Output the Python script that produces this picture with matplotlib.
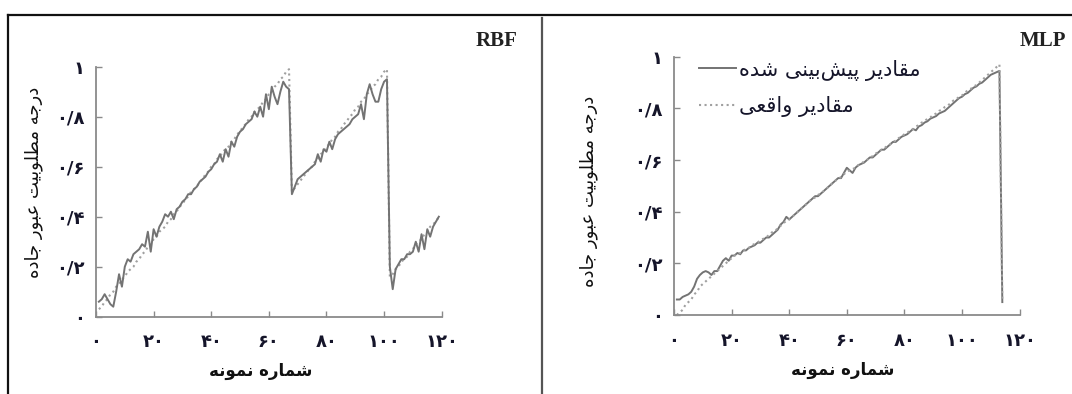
import matplotlib
matplotlib.use("Agg")
import matplotlib.pyplot as plt
from matplotlib.lines import Line2D

# ---------------- data ----------------
rbf_x = list(range(1, 120))
rbf_actual = [
    0.03, 0.04, 0.06, 0.07, 0.09, 0.10, 0.12, 0.13, 0.15, 0.16,
    0.18, 0.19, 0.20, 0.22, 0.23, 0.25, 0.26, 0.28, 0.29, 0.31,
    0.32, 0.34, 0.35, 0.36, 0.38, 0.39, 0.41, 0.42, 0.44, 0.45,
    0.47, 0.48, 0.50, 0.51, 0.52, 0.54, 0.55, 0.57, 0.58, 0.60,
    0.61, 0.63, 0.64, 0.66, 0.67, 0.68, 0.70, 0.71, 0.73, 0.74,
    0.76, 0.77, 0.79, 0.80, 0.82, 0.83, 0.84, 0.86, 0.87, 0.89,
    0.90, 0.92, 0.93, 0.95, 0.96, 0.98, 0.99,
    0.50, 0.515, 0.53, 0.545, 0.56, 0.575, 0.59, 0.60, 0.62, 0.63,
    0.65, 0.66, 0.68, 0.69, 0.71, 0.72, 0.74, 0.75, 0.77, 0.78,
    0.80, 0.81, 0.83, 0.84, 0.86, 0.87, 0.89, 0.90, 0.92, 0.93,
    0.95, 0.96, 0.98, 0.99,
    0.16, 0.17, 0.19, 0.20, 0.22, 0.23, 0.24, 0.26, 0.27, 0.29,
    0.30, 0.31, 0.33, 0.34, 0.36, 0.37, 0.38, 0.40,
]
rbf_pred = [
    0.06, 0.07, 0.09, 0.07, 0.05, 0.04, 0.10, 0.17, 0.12, 0.20,
    0.23, 0.22, 0.25, 0.26, 0.27, 0.29, 0.28, 0.34, 0.26, 0.35,
    0.32, 0.36, 0.38, 0.41, 0.40, 0.42, 0.39, 0.43, 0.44, 0.46,
    0.47, 0.49, 0.49, 0.51, 0.52, 0.54, 0.55, 0.56, 0.58, 0.59,
    0.61, 0.62, 0.65, 0.62, 0.67, 0.64, 0.70, 0.68, 0.72, 0.74,
    0.75, 0.77, 0.78, 0.79, 0.82, 0.80, 0.84, 0.80, 0.89, 0.83,
    0.92, 0.88, 0.85, 0.90, 0.94, 0.92, 0.91,
    0.49, 0.52, 0.55, 0.56, 0.57, 0.58, 0.59, 0.60, 0.61, 0.65,
    0.62, 0.67, 0.66, 0.70, 0.67, 0.71, 0.73, 0.74, 0.75, 0.76,
    0.77, 0.79, 0.80, 0.81, 0.85, 0.79, 0.89, 0.93, 0.89, 0.86,
    0.86, 0.91, 0.94, 0.95,
    0.20, 0.11, 0.19, 0.21, 0.23, 0.23, 0.25, 0.25, 0.26, 0.30,
    0.26, 0.33, 0.27, 0.35, 0.32, 0.36, 0.38, 0.40,
]

mlp_x = list(range(1, 115))
mlp_actual = [
    0.00, 0.01, 0.02, 0.04, 0.05, 0.06, 0.08, 0.09, 0.11, 0.12,
    0.13, 0.14, 0.15, 0.16, 0.17, 0.18, 0.19, 0.20, 0.21, 0.22,
    0.23, 0.235, 0.24, 0.25, 0.255, 0.26, 0.27, 0.275, 0.28, 0.29,
    0.295, 0.30, 0.31, 0.32, 0.325, 0.335, 0.345, 0.355, 0.365, 0.37,
    0.38, 0.39, 0.40, 0.41, 0.42, 0.43, 0.44, 0.45, 0.455, 0.465,
    0.47, 0.48, 0.49, 0.50, 0.51, 0.52, 0.525, 0.535, 0.545, 0.555,
    0.56, 0.565, 0.57, 0.58, 0.585, 0.595, 0.60, 0.61, 0.615, 0.625,
    0.63, 0.64, 0.645, 0.655, 0.66, 0.67, 0.675, 0.685, 0.69, 0.70,
    0.705, 0.715, 0.72, 0.73, 0.735, 0.745, 0.75, 0.76, 0.765, 0.775,
    0.78, 0.79, 0.795, 0.805, 0.81, 0.82, 0.83, 0.835, 0.845, 0.85,
    0.86, 0.87, 0.875, 0.885, 0.89, 0.90, 0.91, 0.92, 0.93, 0.94,
    0.95, 0.96, 0.97, 0.05,
]
mlp_pred = [
    0.06, 0.06, 0.07, 0.075, 0.08, 0.09, 0.11, 0.14, 0.155, 0.165,
    0.17, 0.165, 0.155, 0.17, 0.17, 0.19, 0.21, 0.22, 0.21, 0.23,
    0.23, 0.24, 0.235, 0.25, 0.25, 0.26, 0.265, 0.27, 0.28, 0.28,
    0.29, 0.30, 0.30, 0.31, 0.32, 0.33, 0.35, 0.36, 0.38, 0.37,
    0.38, 0.39, 0.40, 0.41, 0.42, 0.43, 0.44, 0.45, 0.46, 0.46,
    0.47, 0.48, 0.49, 0.50, 0.51, 0.52, 0.53, 0.53, 0.55, 0.57,
    0.56, 0.55, 0.57, 0.58, 0.585, 0.59, 0.60, 0.61, 0.61, 0.62,
    0.63, 0.64, 0.64, 0.65, 0.66, 0.67, 0.67, 0.68, 0.69, 0.695,
    0.70, 0.71, 0.72, 0.715, 0.73, 0.735, 0.745, 0.75, 0.76, 0.765,
    0.77, 0.78, 0.785, 0.79, 0.80, 0.81, 0.82, 0.83, 0.84, 0.845,
    0.855, 0.86, 0.87, 0.88, 0.885, 0.895, 0.90, 0.91, 0.92, 0.93,
    0.935, 0.94, 0.945, 0.05,
]

y_ticks = [0, 0.2, 0.4, 0.6, 0.8, 1.0]
y_tick_labels = ["۰", "۰/۲", "۰/۴", "۰/۶", "۰/۸", "۱"]
x_ticks = [0, 20, 40, 60, 80, 100, 120]
x_tick_labels = ["۰", "۲۰", "۴۰", "۶۰", "۸۰", "۱۰۰", "۱۲۰"]
x_label = "شماره نمونه"
y_label = "درجه مطلوبیت عبور جاده"
legend_labels = ["مقادیر پیش‌بینی شده", "مقادیر واقعی"]
titles = ["RBF", "MLP"]

# ------------- simple Persian shaping (matplotlib has no bidi/shaping) -------------
FORMS = {  # isolated, final, initial, medial
    'ا': (0xFE8D, 0xFE8E, None, None),
    'ب': (0xFE8F, 0xFE90, 0xFE91, 0xFE92),
    'پ': (0xFB56, 0xFB57, 0xFB58, 0xFB59),
    'ت': (0xFE95, 0xFE96, 0xFE97, 0xFE98),
    'ج': (0xFE9D, 0xFE9E, 0xFE9F, 0xFEA0),
    'د': (0xFEA9, 0xFEAA, None, None),
    'ر': (0xFEAD, 0xFEAE, None, None),
    'ش': (0xFEB5, 0xFEB6, 0xFEB7, 0xFEB8),
    'ط': (0xFEC1, 0xFEC2, 0xFEC3, 0xFEC4),
    'ع': (0xFEC9, 0xFECA, 0xFECB, 0xFECC),
    'ق': (0xFED5, 0xFED6, 0xFED7, 0xFED8),
    'ل': (0xFEDD, 0xFEDE, 0xFEDF, 0xFEE0),
    'م': (0xFEE1, 0xFEE2, 0xFEE3, 0xFEE4),
    'ن': (0xFEE5, 0xFEE6, 0xFEE7, 0xFEE8),
    'و': (0xFEED, 0xFEEE, None, None),
    'ه': (0xFEE9, 0xFEEA, 0xFEEB, 0xFEEC),
    'ی': (0xFBFC, 0xFBFD, 0xFBFE, 0xFBFF),
}


def shape(s):
    out = []
    n = len(s)
    for i, c in enumerate(s):
        if c == '\u200c':
            continue
        if c not in FORMS:
            out.append(c)
            continue
        f = FORMS[c]
        prev = s[i - 1] if i > 0 else None
        nxt = s[i + 1] if i + 1 < n else None
        jp = prev in FORMS and FORMS[prev][2] is not None
        jn = nxt in FORMS and f[2] is not None
        if jp and jn:
            code = f[3]
        elif jp:
            code = f[1]
        elif jn:
            code = f[2]
        else:
            code = f[0]
        out.append(chr(code))
    return ''.join(reversed(out))


# ---------------- figure ----------------
W, H = 1072, 394
fig = plt.figure(figsize=(W / 100, H / 100), dpi=100)
fig.patch.set_facecolor('white')

AR = ['DejaVu Sans']
pred_color = '#737373'
act_color = '#a0a0a0'
spine_color = '#8a8a8a'
text_color = '#15152a'


def px_axes(x0, x1, y_top, y_bot):
    return fig.add_axes([x0 / W, 1 - y_bot / H, (x1 - x0) / W, (y_bot - y_top) / H])


ax1 = px_axes(96, 441.7, 66.7, 316.7)
ax2 = px_axes(674, 1019.6, 56.7, 315)

for ax in (ax1, ax2):
    ax.set_xlim(0, 120)
    ax.set_ylim(0, 1)
    for s in ('top', 'right'):
        ax.spines[s].set_visible(False)
    for s in ('left', 'bottom'):
        ax.spines[s].set_color(spine_color)
        ax.spines[s].set_linewidth(1.3)
    ax.set_xticks(x_ticks)
    ax.set_xticklabels(x_tick_labels)
    ax.set_yticks(y_ticks)
    ax.set_yticklabels(y_tick_labels)
    ax.tick_params(axis='both', direction='in', length=4, width=1.0,
                   color=spine_color, labelcolor=text_color)
    ax.tick_params(axis='x', pad=12)
    ax.tick_params(axis='y', pad=8)
    for lab in ax.get_xticklabels() + ax.get_yticklabels():
        lab.set_fontfamily(AR)
        lab.set_fontweight('bold')
        lab.set_fontsize(13)

ax1.plot(rbf_x, rbf_actual, linestyle=':', color=act_color, lw=1.5)
ax1.plot(rbf_x, rbf_pred, linestyle='-', color=pred_color, lw=1.4)

l_pred, = ax2.plot(mlp_x, mlp_pred, linestyle='-', color=pred_color, lw=1.4)
l_act, = ax2.plot(mlp_x, mlp_actual, linestyle=':', color=act_color, lw=1.5)

leg = fig.legend([l_pred, l_act], [shape(t) for t in legend_labels],
                 loc='upper left', bbox_to_anchor=(682 / W, 1 - 43 / H),
                 frameon=False, handlelength=1.8, handletextpad=0.15,
                 labelspacing=0.75, borderpad=0.3,
                 prop={'family': AR, 'size': 15})
for t in leg.get_texts():
    t.set_color(text_color)

# axis labels
fig.text(261 / W, 1 - 371 / H, shape(x_label), ha='center', va='center',
         family=AR, fontweight='bold', fontsize=12, color='#111111')
fig.text(843 / W, 1 - 370 / H, shape(x_label), ha='center', va='center',
         family=AR, fontweight='bold', fontsize=12, color='#111111')
fig.text(34 / W, 1 - 182 / H, shape(y_label), ha='center', va='center',
         rotation=90, family=AR, fontsize=13, color='#111111')
fig.text(589 / W, 1 - 191 / H, shape(y_label), ha='center', va='center',
         rotation=90, family=AR, fontsize=13, color='#111111')

# panel titles
fig.text(517 / W, 1 - 41 / H, titles[0], ha='right', va='center',
         family='Liberation Serif', fontweight='bold', fontsize=15, color='#222222')
fig.text(1066 / W, 1 - 41 / H, titles[1], ha='right', va='center',
         family='Liberation Serif', fontweight='bold', fontsize=15, color='#222222')

# frame lines
fig.add_artist(Line2D([7.5 / W, 1.0], [1 - 15 / H, 1 - 15 / H], transform=fig.transFigure,
                      color='#111111', lw=1.6))
fig.add_artist(Line2D([7.5 / W, 7.5 / W], [1 - 15 / H, 0], transform=fig.transFigure,
                      color='#111111', lw=1.6))
fig.add_artist(Line2D([541.5 / W, 541.5 / W], [1 - 18 / H, 0], transform=fig.transFigure,
                      color='#555555', lw=1.6))

fig.savefig('out.png', dpi=100, facecolor='white')
